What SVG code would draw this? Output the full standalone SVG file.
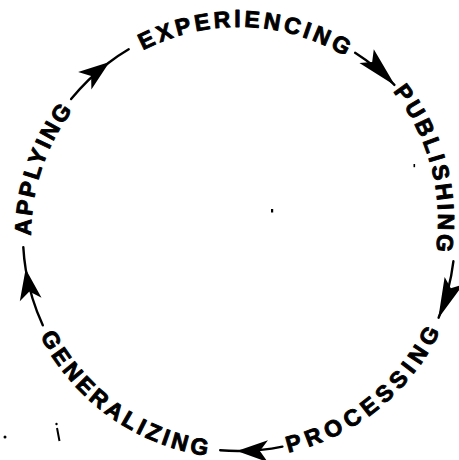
<svg xmlns="http://www.w3.org/2000/svg" width="459" height="460" viewBox="0 0 459 460">
<style>
  .lbl { font-family: "Liberation Sans", Arial, sans-serif; font-weight: bold; font-size: 23px; fill: #000; stroke: #000; stroke-width: 0.9; stroke-linejoin: round; }
  .conn { fill: none; stroke: #000; stroke-width: 2.4; stroke-linecap: round; }
  .speck { fill: #000; }
</style>
<defs>
  <path id="cw" d="M239,443 A208,208 0 1 1 239,27 A208,208 0 1 1 239,443"/>
  <path id="cw3" d="M231.5,426.8 A206.5,206.5 0 1 1 231.5,13.8 A206.5,206.5 0 1 1 231.5,426.8"/>
  <path id="ccw" d="M16,235 A223,223 0 1 0 462,235 A223,223 0 1 0 16,235"/>
  <marker id="ah" markerUnits="userSpaceOnUse" viewBox="-32 -12 34 24" refX="0" refY="0" markerWidth="34" markerHeight="24" orient="auto">
    <path d="M1,0 L-30,-11 L-22,0 L-30,11 Z" fill="#000"/>
  </marker>
  <marker id="ahl" markerUnits="userSpaceOnUse" viewBox="-42 -11 44 22" refX="0" refY="0" markerWidth="44" markerHeight="22" orient="auto">
    <path d="M1,0 L-40,-10 L-32,0 L-40,10 Z" fill="#000"/>
  </marker>
</defs>

<g id="connectors">
  <path class="conn" d="M71.1,99.1 A216,216 0 0 1 108.7,62.7 A216,216 0 0 1 128.7,49.3" marker-mid="url(#ah)"/>
  <path class="conn" d="M355.1,52.8 A216,216 0 0 1 394.4,84.9" marker-end="url(#ahl)"/>
  <path class="conn" d="M453.4,261.3 A216,216 0 0 1 438.6,317.7" marker-end="url(#ahl)"/>
  <path class="conn" d="M282.4,446.6 A216,216 0 0 1 237.9,451 A216,216 0 0 1 220.2,450.2" marker-mid="url(#ah)"/>
  <path class="conn" d="M42.8,325.3 A216,216 0 0 1 25.8,269.9 A216,216 0 0 1 23.3,247.1" marker-mid="url(#ah)"/>
</g>

<g id="experiencing">
  <text class="lbl" letter-spacing="3.43"><textPath href="#cw" startOffset="553.2">EXPERIENCING</textPath></text>
</g>
<g id="publishing">
  <text class="lbl" letter-spacing="3.13"><textPath href="#cw3" startOffset="833.7">PUBLISHING</textPath></text>
</g>
<g id="processing">
  <text class="lbl" letter-spacing="5.27"><textPath href="#ccw" startOffset="399.8">PROCESSING</textPath></text>
</g>
<g id="generalizing">
  <text class="lbl" letter-spacing="3.59"><textPath href="#ccw" startOffset="104.7">GENERALIZING</textPath></text>
</g>
<g id="applying">
  <text class="lbl" letter-spacing="2.68"><textPath href="#cw" startOffset="326">APPLYING</textPath></text>
</g>

<g id="specks">
  <circle class="speck" cx="5" cy="437" r="1.5"/>
  <circle class="speck" cx="56.5" cy="424" r="1.2"/>
  <path d="M57,428 L59.5,441" stroke="#000" stroke-width="2" fill="none"/>
  <rect class="speck" x="271" y="209" width="2.2" height="3.5"/>
  <rect class="speck" x="413.5" y="164" width="1.6" height="3.2"/>
</g>
</svg>
